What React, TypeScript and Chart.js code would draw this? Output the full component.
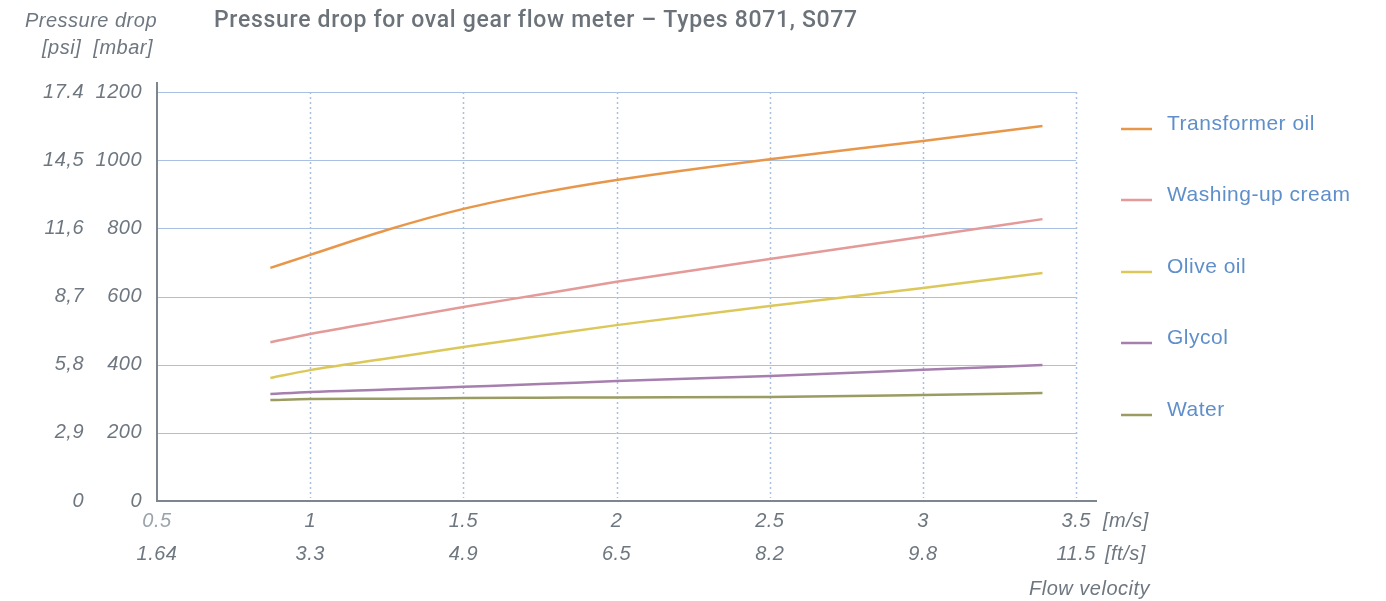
import React, { useEffect, useRef } from "react";
import { Chart, registerables } from "chart.js";

Chart.register(...registerables);

const velocity = [0.87, 1.0, 1.25, 1.5, 1.75, 2.0, 2.5, 3.0, 3.39];
const transformerOil = [684, 722, 795, 857, 904, 942, 1003, 1056, 1100];
const washingUpCream = [466, 490, 530, 569, 606, 643, 710, 775, 827];
const oliveOil = [361, 384, 418, 452, 484, 516, 572, 625, 669];
const glycol = [314, 320, 327, 335, 343, 352, 367, 385, 399];
const water = [296, 299, 300, 302, 303, 304, 305, 311, 317];

const seriesNames = ["Transformer oil", "Washing-up cream", "Olive oil", "Glycol", "Water"];
const seriesColors = ["#e8974a", "#e39a98", "#dcc85a", "#a67fae", "#9a9c62"];

const xTicksMs = [0.5, 1, 1.5, 2, 2.5, 3, 3.5];
const xLabelsMs = ["0.5", "1", "1.5", "2", "2.5", "3", "3.5"];
const xLabelsFt = ["1.64", "3.3", "4.9", "6.5", "8.2", "9.8", "11.5"];
const yTicksMbar = [0, 200, 400, 600, 800, 1000, 1200];
const yLabelsMbar = ["0", "200", "400", "600", "800", "1000", "1200"];
const yLabelsPsi = ["0", "2,9", "5,8", "8,7", "11,6", "14,5", "17.4"];

const TITLE = "Pressure drop for oval gear flow meter – Types 8071, S077";

const W = 1386;
const H = 601;
const FONT = "'Liberation Sans', Arial, Helvetica, sans-serif";
const TEXT_GRAY = "#6e7780";
const GRID = "#a9c0e3";
const AXIS = "#7d868f";
const LEGEND_TEXT = "#5f8fca";

const decorPlugin = {
  id: "decor",
  beforeDatasetsDraw(chart: any) {
    const ctx = chart.ctx;
    const xs = chart.scales.x;
    const ys = chart.scales.y;
    const top = ys.getPixelForValue(1200);
    const bottom = ys.getPixelForValue(0);
    const left = xs.getPixelForValue(0.5);
    const gridRight = xs.getPixelForValue(3.5);
    ctx.save();
    ctx.strokeStyle = GRID;
    ctx.lineWidth = 1;
    ctx.setLineDash([]);
    yTicksMbar.forEach((v) => {
      if (v === 0) return;
      const y = Math.round(ys.getPixelForValue(v)) + 0.5;
      ctx.beginPath();
      ctx.moveTo(left, y);
      ctx.lineTo(gridRight, y);
      ctx.stroke();
    });
    ctx.setLineDash([2, 3]);
    ctx.lineWidth = 1.5;
    xTicksMs.forEach((v) => {
      if (v === 0.5) return;
      const x = Math.round(xs.getPixelForValue(v)) + 0.5;
      ctx.beginPath();
      ctx.moveTo(x, top);
      ctx.lineTo(x, bottom - 3);
      ctx.stroke();
    });
    ctx.restore();
  },
  afterDraw(chart: any) {
    const ctx = chart.ctx;
    const xs = chart.scales.x;
    const ys = chart.scales.y;
    const area = chart.chartArea;
    const bottom = ys.getPixelForValue(0);
    const left = xs.getPixelForValue(0.5);
    ctx.save();
    ctx.strokeStyle = AXIS;
    ctx.lineWidth = 2;
    ctx.setLineDash([]);
    ctx.beginPath();
    ctx.moveTo(left, 82);
    ctx.lineTo(left, bottom);
    ctx.lineTo(area.right, bottom);
    ctx.stroke();

    ctx.font = `italic 20px ${FONT}`;
    (ctx as any).letterSpacing = "0.5px";
    ctx.textBaseline = "middle";
    ctx.textAlign = "right";
    yTicksMbar.forEach((v, i) => {
      const y = ys.getPixelForValue(v);
      ctx.fillStyle = TEXT_GRAY;
      ctx.fillText(yLabelsPsi[i], 84, y);
      ctx.fillText(yLabelsMbar[i], 142, y);
    });
    ctx.fillText("Pressure drop", 157, 21);
    ctx.fillText("[psi]  [mbar]", 153, 48);

    ctx.textAlign = "center";
    xTicksMs.forEach((v, i) => {
      const x = xs.getPixelForValue(v);
      ctx.fillStyle = i === 0 ? "#9aa2aa" : TEXT_GRAY;
      ctx.fillText(xLabelsMs[i], x, 521);
      ctx.fillStyle = TEXT_GRAY;
      ctx.fillText(xLabelsFt[i], x, 554);
    });
    ctx.fillStyle = TEXT_GRAY;
    ctx.textAlign = "left";
    ctx.fillText("[m/s]", 1103, 521);
    ctx.fillText("[ft/s]", 1105, 554);
    ctx.textAlign = "right";
    ctx.fillText("Flow velocity", 1150, 589);

    // title, fitted to the reference width
    ctx.font = `500 23px Roboto, ${FONT}`;
    (ctx as any).letterSpacing = "0px";
    const measured = ctx.measureText(TITLE).width;
    const sp = Math.max(0, (643 - measured) / (TITLE.length - 1));
    (ctx as any).letterSpacing = `${sp.toFixed(2)}px`;
    ctx.textAlign = "left";
    ctx.fillStyle = "#6b7279";
    ctx.fillText(TITLE, 214, 21);

    const legendY = [124, 195, 267, 338, 410];
    ctx.font = `21px ${FONT}`;
    (ctx as any).letterSpacing = "0.5px";
    chart.data.datasets.forEach((ds: any, i: number) => {
      const y = legendY[i];
      ctx.strokeStyle = ds.borderColor;
      ctx.lineWidth = 2.5;
      ctx.beginPath();
      ctx.moveTo(1121, y + 5);
      ctx.lineTo(1152, y + 5);
      ctx.stroke();
      ctx.fillStyle = LEGEND_TEXT;
      ctx.textAlign = "left";
      ctx.fillText(ds.label, 1167, y);
    });
    ctx.restore();
  },
};

export default function App() {
  const ref = useRef<HTMLCanvasElement | null>(null);
  useEffect(() => {
    if (!ref.current) return;
    const seriesValues = [transformerOil, washingUpCream, oliveOil, glycol, water];
    const chart = new Chart(ref.current, {
      type: "line",
      data: {
        datasets: seriesValues.map((vals, i) => ({
          label: seriesNames[i],
          data: vals.map((v, j) => ({ x: velocity[j], y: v })),
          borderColor: seriesColors[i],
          backgroundColor: seriesColors[i],
          borderWidth: 2.5,
          pointRadius: 0,
          cubicInterpolationMode: "monotone" as const,
          fill: false,
        })),
      },
      options: {
        responsive: false,
        animation: false,
        events: [],
        layout: { padding: { left: 157, right: 289, top: 92, bottom: 100 } },
        plugins: { legend: { display: false }, tooltip: { enabled: false }, title: { display: false } },
        scales: {
          x: { type: "linear", min: 0.5, max: 3.568, display: false },
          y: { type: "linear", min: 0, max: 1200, display: false },
        },
      },
      plugins: [decorPlugin],
    });
    return () => chart.destroy();
  }, []);
  return (
    <div style={{ position: "absolute", left: 0, top: 0, width: W, height: H, background: "#fff" }}>
      <canvas ref={ref} width={W} height={H} style={{ width: W, height: H, display: "block" }} />
    </div>
  );
}
